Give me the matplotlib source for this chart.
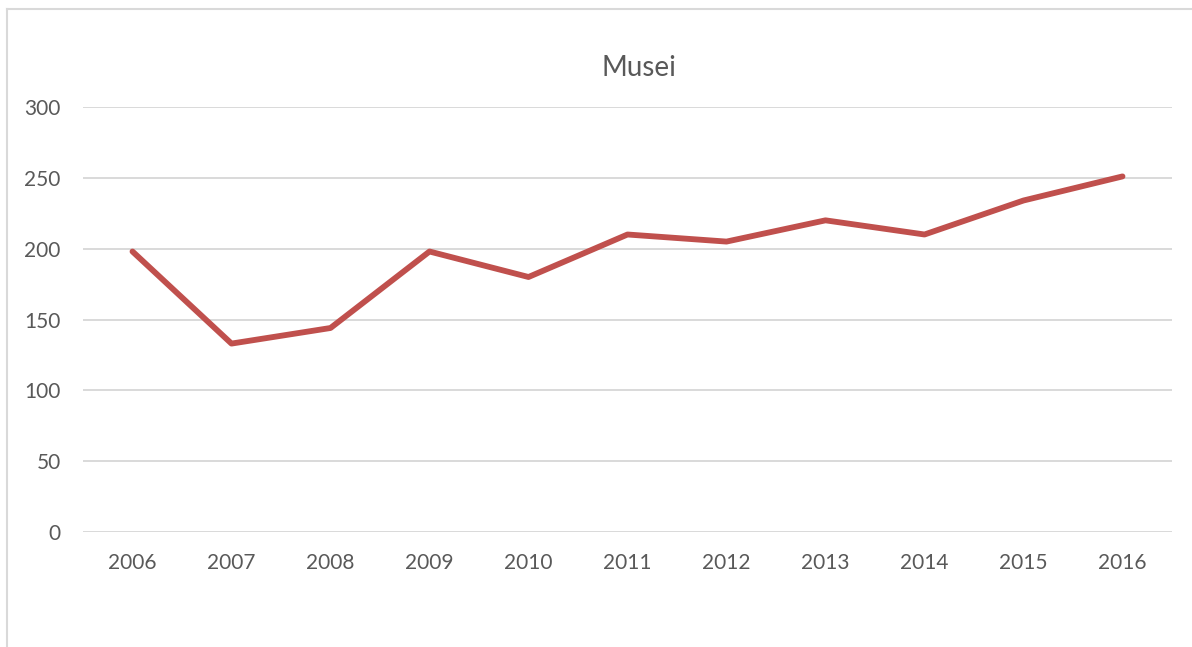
import matplotlib

matplotlib.use("Agg")
import matplotlib.pyplot as plt
from matplotlib.lines import Line2D


YEARS = ["2006", "2007", "2008", "2009", "2010", "2011", "2012", "2013", "2014", "2015", "2016"]
MUSEI = [198, 133, 144, 198, 180, 210, 205, 220, 210, 234, 251]
Y_TICKS = [0, 50, 100, 150, 200, 250, 300]

LINE_COLOR = "#C0504D"
TEXT_COLOR = "#595959"
GRID_COLOR = "#D9D9D9"

W, H = 1192, 647


def main():
    plt.rcParams["font.family"] = ["Lato", "DejaVu Sans"]

    fig = plt.figure(figsize=(W / 100, H / 100), dpi=100)
    ax = fig.add_axes([83 / W, (H - 532) / H, (1172 - 83) / W, (532 - 107) / H])

    x = list(range(len(YEARS)))
    ax.plot(x, MUSEI, color=LINE_COLOR, linewidth=4.2, solid_capstyle="round",
            solid_joinstyle="round", zorder=3)

    ax.set_xlim(-0.5, len(YEARS) - 0.5)
    ax.set_ylim(0, 300)
    ax.set_xticks(x)
    ax.set_xticklabels(YEARS)
    ax.set_yticks(Y_TICKS)

    ax.grid(axis="y", color=GRID_COLOR, linewidth=1.4)
    ax.set_axisbelow(True)
    for side in ["top", "right", "left", "bottom"]:
        ax.spines[side].set_visible(False)
    ax.tick_params(axis="both", length=0, labelsize=15, colors=TEXT_COLOR)
    ax.tick_params(axis="y", pad=16)
    ax.tick_params(axis="x", pad=15)

    fig.text(639 / W, 1 - 68 / H, "Musei", ha="center", va="center",
             fontsize=20, color=TEXT_COLOR)

    # chart frame (top and left edges visible in crop)
    fig.add_artist(Line2D([7.5 / W, 1.0], [1 - 8.5 / H, 1 - 8.5 / H],
                          color=GRID_COLOR, linewidth=1.5))
    fig.add_artist(Line2D([7.5 / W, 7.5 / W], [0, 1 - 8.5 / H],
                          color=GRID_COLOR, linewidth=1.5))

    fig.savefig("out.png", dpi=100, facecolor="white")


if __name__ == "__main__":
    main()
